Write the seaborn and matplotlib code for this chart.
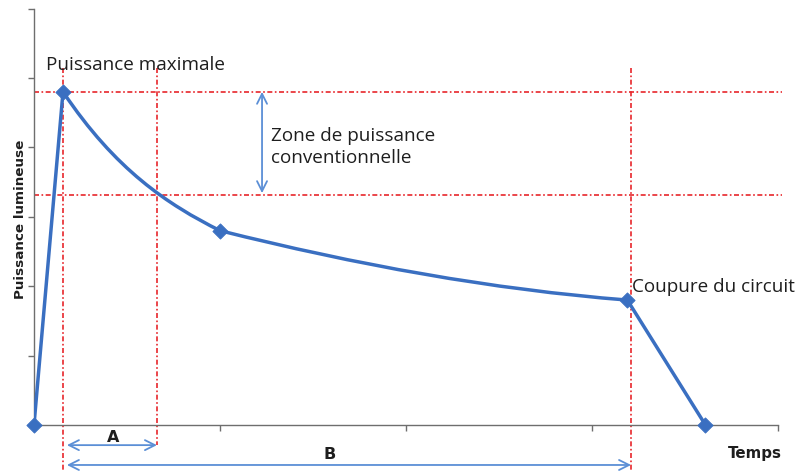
import numpy as np
import pandas as pd
import matplotlib.pyplot as plt
import seaborn as sns
from matplotlib.path import Path
from matplotlib.patches import PathPatch

# data (x: temps, y: puissance lumineuse)
temps = [0.0, 0.156, 1.0, 3.19, 3.61]
puissance = [0.0, 4.8, 2.8, 1.8, 0.0]

niveau_max = 4.8      # puissance maximale
niveau_conv = 3.31    # bas de la zone conventionnelle
t_max = 0.156
t_a = 0.661
t_coupure = 3.21

BLUE = '#3A6FC1'
ARROW = '#5B8FD6'
RED = '#E8262B'
TXT = '#1E1E1E'

sns.set_theme(style='white')
plt.rcParams['font.family'] = ['Open Sans', 'DejaVu Sans']

df = pd.DataFrame({'t': temps, 'p': puissance})

fig = plt.figure(figsize=(7.99, 4.71), dpi=100)
ax = fig.add_axes([34 / 799, 46 / 471, 744 / 799, 416.5 / 471])
ax.set_xlim(0, 4)
ax.set_ylim(0, 6)

# straight parts: montee et coupure
sns.lineplot(data=df.iloc[:2], x='t', y='p', color=BLUE, lw=2.5, ax=ax, zorder=3)
sns.lineplot(data=df.iloc[3:], x='t', y='p', color=BLUE, lw=2.5, ax=ax, zorder=3)

# smoothed decay between peak and cut-off: bezier curves through the markers
# (out/in tangent slopes at each node, chosen to look like the original drawing)
pts = np.array(list(zip(temps, puissance)))[1:4]
slope_out = [-4.0, -0.67]
slope_in = [-1.34, -0.21]
verts = [pts[0]]
for i in range(2):
    h = (pts[i + 1][0] - pts[i][0]) / 3
    verts.append(pts[i] + [h, slope_out[i] * h])
    verts.append(pts[i + 1] - [h, slope_in[i] * h])
    verts.append(pts[i + 1])
codes = [Path.MOVETO] + [Path.CURVE4] * 6
ax.add_patch(PathPatch(Path(verts, codes), fill=False, edgecolor=BLUE,
                       lw=2.5, capstyle='round', zorder=3))

sns.scatterplot(data=df, x='t', y='p', marker='D', s=60, color=BLUE,
                edgecolor=BLUE, ax=ax, zorder=4, clip_on=False)

# red reference lines
dash = (0, (3, 1.5, 1, 1.5))
for yv in [niveau_max, niveau_conv]:
    ax.plot([0, 4.02], [yv, yv], color=RED, lw=1.2, ls=dash, clip_on=False, zorder=2)
ax.plot([t_max, t_max], [5.15, -0.66], color=RED, lw=1.2, ls=dash, clip_on=False, zorder=2)
ax.plot([t_a, t_a], [5.15, -0.29], color=RED, lw=1.2, ls=dash, clip_on=False, zorder=2)
ax.plot([t_coupure, t_coupure], [5.15, -0.66], color=RED, lw=1.2, ls=dash, clip_on=False, zorder=2)

# blue arrows
aprops = dict(arrowstyle='<->,head_length=0.6,head_width=0.3', color=ARROW, lw=1.3,
              shrinkA=0, shrinkB=0)
ax.annotate('', xy=(1.226, niveau_max), xytext=(1.226, niveau_conv + 0.03),
            arrowprops=aprops, annotation_clip=False)
ax.annotate('', xy=(0.177, -0.29), xytext=(t_a, -0.29),
            arrowprops=aprops, annotation_clip=False)
ax.annotate('', xy=(0.177, -0.576), xytext=(t_coupure, -0.576),
            arrowprops=aprops, annotation_clip=False)

# texts
ax.text(0.066, 5.108, 'Puissance maximale', fontsize=13.6, color=TXT, va='baseline', ha='left')
ax.text(1.272, 4.091, 'Zone de puissance', fontsize=13.6, color=TXT, va='baseline', ha='left')
ax.text(1.272, 3.77, 'conventionnelle', fontsize=13.6, color=TXT, va='baseline', ha='left')
ax.text(3.214, 1.918, 'Coupure du circuit', fontsize=13.6, color=TXT, va='baseline', ha='left')
bold = dict(fontweight='bold', family='DejaVu Sans', color=TXT, ha='center', va='baseline')
ax.text(0.423, -0.245, 'A', fontsize=11.5, **bold)
ax.text(1.591, -0.49, 'B', fontsize=11.5, **bold)
ax.text(3.876, -0.475, 'Temps', fontsize=10.8, **bold)
fig.text(21 / 799, 1 - 219 / 471, 'Puissance lumineuse', rotation=90, fontsize=9.7,
         fontweight='bold', family='DejaVu Sans', color=TXT, va='center', ha='center')

# axes styling
ax.set_xticks(range(5))
ax.set_yticks(range(7))
ax.set_xticklabels([])
ax.set_yticklabels([])
ax.set_xlabel('')
ax.set_ylabel('')
ax.tick_params(axis='both', direction='out', length=4, width=1, color='#6E6E6E',
               left=True, bottom=True)
sns.despine(ax=ax, top=True, right=True)
for sp in ['left', 'bottom']:
    ax.spines[sp].set_color('#6E6E6E')
    ax.spines[sp].set_linewidth(1)
ax.grid(False)

fig.savefig('out.png', dpi=100)
